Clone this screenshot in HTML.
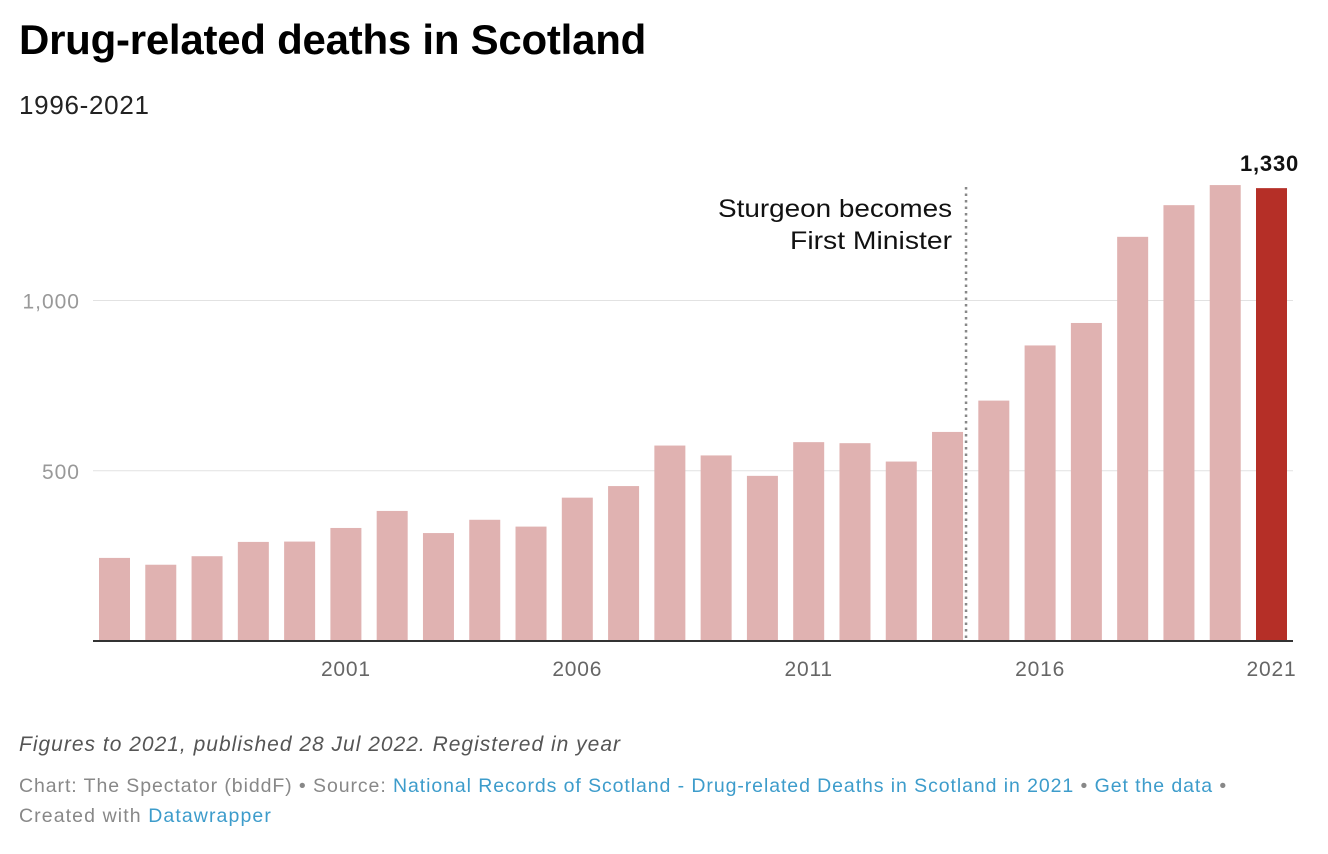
<!DOCTYPE html>
<html><head><meta charset="utf-8"><style>
body{margin:0;width:1328px;height:854px;background:#fff;font-family:"Liberation Sans",sans-serif;overflow:hidden;position:relative}
.t{position:absolute;white-space:nowrap}
a{color:#3d9ccb;text-decoration:none}
</style></head><body>
<div class="t" style="left:19px;top:16px;font-size:42px;font-weight:bold;color:#000;letter-spacing:-0.25px">Drug-related deaths in Scotland</div>
<div class="t" style="left:19px;top:90px;font-size:26px;color:#222;letter-spacing:0.7px">1996-2021</div>
<svg id="chart" width="1328" height="700" style="position:absolute;left:0;top:0"></svg>
<div class="t" style="left:19px;top:733px;font-size:21px;font-style:italic;color:#555;letter-spacing:1px">Figures to 2021, published 28 Jul 2022. Registered in year</div>
<div class="t" style="left:19px;top:775px;font-size:19.5px;color:#888;letter-spacing:0.92px">Chart: The Spectator (biddF) • Source: <a>National Records of Scotland - Drug-related Deaths in Scotland in 2021</a> • <a>Get the data</a> •</div>
<div class="t" style="left:19px;top:805px;font-size:19.5px;color:#888;letter-spacing:1.1px">Created with <a>Datawrapper</a></div>
<script>
const years=[1996,1997,1998,1999,2000,2001,2002,2003,2004,2005,2006,2007,2008,2009,2010,2011,2012,2013,2014,2015,2016,2017,2018,2019,2020,2021];
const deaths=[244,224,249,291,292,332,382,317,356,336,421,455,574,545,485,584,581,527,614,706,868,934,1187,1280,1339,1330];
const yTicks=[500,1000];
const yTickLabels=["500","1,000"];
const xTickYears=[2001,2006,2011,2016,2021];
const NS="http://www.w3.org/2000/svg";
const svg=document.getElementById('chart');
const x0=93,x1=1293,y0=641,yScale=0.3405;
const bw=31;
function yPos(v){return y0-v*yScale;}
function bx(i){return 99+i*46.28;}
function mk(tag,attrs){const e=document.createElementNS(NS,tag);for(const k in attrs)e.setAttribute(k,attrs[k]);svg.appendChild(e);return e;}
yTicks.forEach((v,i)=>{
 const l=mk('line',{x1:x0,x2:x1,y1:yPos(v),y2:yPos(v),stroke:'#e2e2e2','stroke-width':1});
 
 
 const t=mk('text',{x:80,y:yPos(v)+8,'text-anchor':'end','font-size':21,fill:'#999','font-family':'Liberation Sans','letter-spacing':1});
 t.textContent=yTickLabels[i];
 
 
});
years.forEach((yr,i)=>{
 const last=i===years.length-1;
 const r=mk('rect',{x:bx(i),y:yPos(deaths[i]),width:bw,height:deaths[i]*yScale,fill:last?'#b52f27':'#e0b2b1'});
 
 
 if(xTickYears.includes(yr)){
  const t=mk('text',{x:bx(i)+bw/2,y:676,'text-anchor':'middle','font-size':21,fill:'#666','font-family':'Liberation Sans','letter-spacing':0.8});
  t.textContent=yr;
  
  
 }
 if(last){
  const t=mk('text',{x:bx(i)+bw/2-2,y:yPos(deaths[i])-17,'text-anchor':'middle','font-size':22,'font-weight':'bold',fill:'#111','font-family':'Liberation Sans','letter-spacing':0.8});
  t.textContent=deaths[i].toLocaleString('en-US');
  
  
 }
});
const base=mk('line',{x1:x0,x2:x1,y1:y0,y2:y0,stroke:'#333','stroke-width':2});


const idx=years.indexOf(2014);
const lx=bx(idx)+bw+3;
const dl=mk('line',{x1:lx,x2:lx,y1:187,y2:641,stroke:'#888','stroke-width':2.5,'stroke-dasharray':'2.5,4'});


[['Sturgeon becomes',217,234],['First Minister',249,162]].forEach(([s,y,w])=>{
 const t=mk('text',{x:lx-14-w,y:y,textLength:w,lengthAdjust:'spacingAndGlyphs','font-size':25,fill:'#111','font-family':'Liberation Sans'});
 t.textContent=s;
 
 
});
</script>
</body></html>
